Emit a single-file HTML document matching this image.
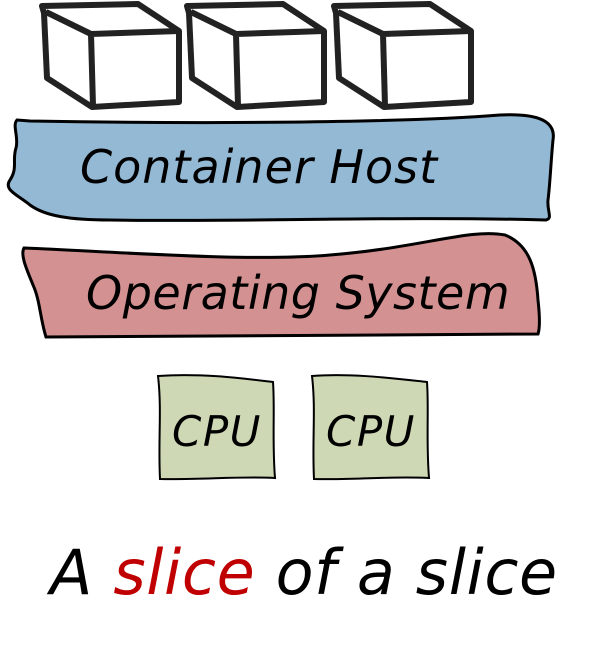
<!DOCTYPE html>
<html><head><meta charset="utf-8"><style>
html,body{margin:0;padding:0;background:#fff;width:600px;height:665px;overflow:hidden}
svg{display:block}
text{font-family:"DejaVu Sans","Liberation Sans",sans-serif;font-style:oblique}
</style></head><body>
<svg width="600" height="665" viewBox="0 0 600 665" xmlns="http://www.w3.org/2000/svg">
<g fill="#fff" stroke="#222" stroke-width="6" stroke-linejoin="round">
 <g id="c">
  <path d="M42,6 L138,4 L179,31 L179,102 L92,107 L47,78 L44,13 Z"/>
  <path d="M46,12 L91,34 L179,31 M91,34 L93,106"/>
 </g>
 <use href="#c" x="145"/>
 <use href="#c" x="292"/>
</g>
<path d="M17,120 L30,121 C200,124 400,123 500,115 C540,113 556,122 553,140 C551,160 550,185 548,200 C547,212 553,218 546,220 C400,216 250,222 110,220 C70,220 45,216 30,205 C18,195 3,190 10,180 C18,168 12,160 16,148 C19,138 12,125 17,120 Z" fill="#93b9d5" stroke="#000" stroke-width="3"/>
<text x="80" y="183" font-size="46" letter-spacing="1" fill="#000">Container Host</text>
<path d="M24,248 C120,252 250,262 330,255 C420,248 470,228 505,235 C530,245 536,270 538,300 C540,318 540,328 538,334 C400,334 250,336 46,337 C40,318 40,300 33,285 C27,270 20,255 24,248 Z" fill="#d39192" stroke="#000" stroke-width="3"/>
<text x="86" y="309" font-size="46" letter-spacing="0.5" fill="#000">Operating System</text>
<path d="M158,376 C200,373 240,378 273,382 C275,410 272,440 275,478 C240,476 200,480 160,479 C158,440 162,410 158,376 Z" fill="#cfd8b5" stroke="#000" stroke-width="2"/>
<path d="M312,376 C350,373 390,378 427,382 C429,410 426,440 429,478 C390,476 350,480 314,479 C312,440 316,410 312,376 Z" fill="#cfd8b5" stroke="#000" stroke-width="2"/>
<text x="172" y="446" font-size="42" letter-spacing="1.5" fill="#000">CPU</text>
<text x="326" y="446" font-size="42" letter-spacing="1.5" fill="#000">CPU</text>
<text x="50" y="594" font-size="62" letter-spacing="0.6" fill="#000">A <tspan fill="#c00000">slice</tspan> of a slice</text>
</svg>
</body></html>
